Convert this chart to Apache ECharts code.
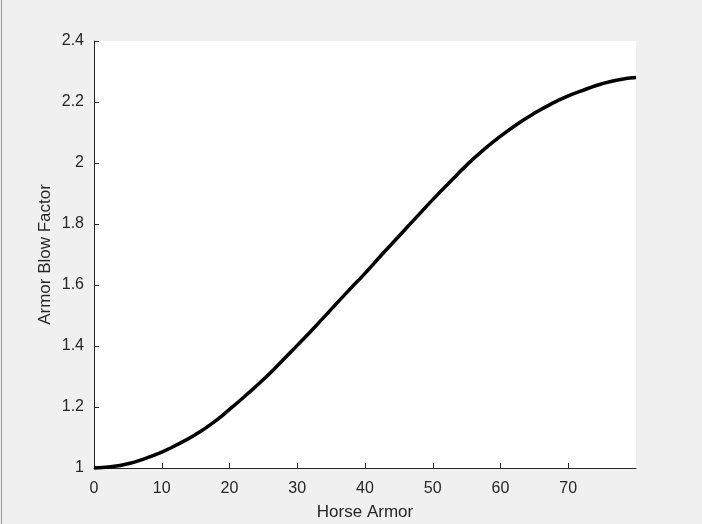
<!DOCTYPE html>
<html>
<head>
<meta charset="utf-8">
<script src="https://cdn.jsdelivr.net/npm/echarts@6/dist/echarts.min.js"></script>
<style>
html,body{margin:0;padding:0;background:#f0f0f0;}
#c{width:702px;height:524px;}
</style>
</head>
<body>
<div id="c"></div>
<script>
const horseArmor = [0,2.5,5,7.5,10,12.5,15,17.5,20,22.5,25,27.5,30,32.5,35,37.5,40,42.5,45,47.5,50,52.5,55,57.5,60,62.5,65,67.5,70,72.5,75,77.5,80];
const blowFactor = [1.000,1.004,1.014,1.031,1.052,1.079,1.110,1.147,1.192,1.240,1.290,1.345,1.402,1.460,1.520,1.580,1.638,1.700,1.760,1.820,1.880,1.937,1.993,2.043,2.088,2.128,2.163,2.194,2.220,2.241,2.260,2.273,2.280];
const xTicks = [0,10,20,30,40,50,60,70];
const yTicks = [1,1.2,1.4,1.6,1.8,2,2.2,2.4];

const chart = echarts.init(document.getElementById('c'), null, {renderer:'canvas'});
const font = '"Liberation Sans", Arial, Helvetica, sans-serif';
chart.setOption({
  backgroundColor:'#f0f0f0',
  animation:false,
  grid:{left:94,right:66,top:41,bottom:56,outerBoundsMode:'none',containLabel:false,show:true,backgroundColor:'#ffffff',borderWidth:0},
  xAxis:{
    type:'value',min:0,max:80,interval:10,
    name:'Horse Armor',nameLocation:'middle',nameGap:36,nameMoveOverlap:false,
    nameTextStyle:{color:'#262626',fontSize:17,fontFamily:font},
    axisLine:{show:true,lineStyle:{color:'#262626',width:1}},
    axisTick:{show:true,inside:true,length:5,customValues:xTicks,lineStyle:{color:'#262626'}},
    axisLabel:{color:'#262626',fontSize:16,fontFamily:font,margin:13,customValues:xTicks},
    splitLine:{show:false}
  },
  yAxis:{
    type:'value',min:1,max:2.4,interval:0.2,
    name:'Armor Blow Factor',nameLocation:'middle',nameGap:40,nameRotate:90,nameMoveOverlap:false,
    nameTextStyle:{color:'#262626',fontSize:17,fontFamily:font},
    axisLine:{show:true,lineStyle:{color:'#262626',width:1}},
    axisTick:{show:true,inside:true,length:5,customValues:yTicks,lineStyle:{color:'#262626'}},
    axisLabel:{color:'#262626',fontSize:16,fontFamily:font,margin:10,customValues:yTicks,
      formatter:function(v){return String(Math.round(v*10)/10);}},
    splitLine:{show:false}
  },
  series:[{
    type:'line',
    data:horseArmor.map((x,i)=>[x,blowFactor[i]]),
    smooth:true,
    showSymbol:false,
    lineStyle:{color:'#000000',width:3.5},
    clip:false
  }],
  graphic:[{type:'line',shape:{x1:1.5,y1:0,x2:1.5,y2:524},style:{stroke:'#9a9a9a',lineWidth:1}}]
});
</script>
</body>
</html>
